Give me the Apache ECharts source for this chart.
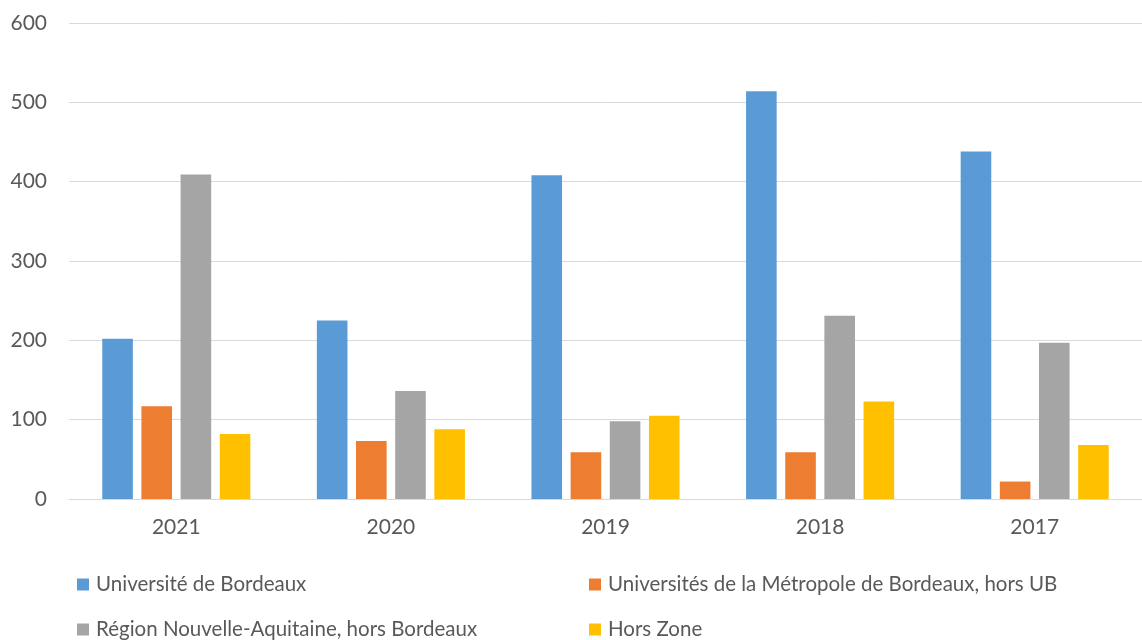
<!DOCTYPE html>
<html>
<head>
<meta charset="utf-8">
<script src="https://cdn.jsdelivr.net/npm/echarts@6/dist/echarts.min.js"></script>
<style>
  html, body { margin: 0; padding: 0; background: #fff; }
  #chart { width: 1142px; height: 640px; }
</style>
</head>
<body>
<div id="chart"></div>
<script>
// années (axe des x)
const years = ['2021', '2020', '2019', '2018', '2017'];
// séries
const seriesNames = [
  'Université de Bordeaux',
  'Universités de la Métropole de Bordeaux, hors UB',
  'Région Nouvelle-Aquitaine, hors Bordeaux',
  'Hors Zone'
];
const ubValues = [202, 225, 408, 514, 438];
const metropoleValues = [117, 73, 59, 59, 22];
const regionValues = [409, 136, 98, 231, 197];
const horsZoneValues = [82, 88, 105, 123, 68];
const colors = ['#5b9bd5', '#ed7d31', '#a5a5a5', '#ffc000'];

const allValues = [ubValues, metropoleValues, regionValues, horsZoneValues];
const font = 'Lato, "Open Sans", sans-serif';
const textColor = '#595959';

const chart = echarts.init(document.getElementById('chart'));

// positions des légendes (2 colonnes x 2 lignes)
const legendPos = [
  { left: 77, top: 574 },
  { left: 589, top: 574 },
  { left: 77, top: 619 },
  { left: 589, top: 619 }
];

const option = {
  animation: false,
  color: colors,
  grid: { left: 69, right: -4, top: 23, bottom: 141 },
  xAxis: {
    type: 'category',
    data: years,
    axisLine: { lineStyle: { color: '#d9d9d9', width: 1 } },
    axisTick: { show: false },
    axisLabel: { color: textColor, fontSize: 21, fontFamily: font, margin: 18 }
  },
  yAxis: {
    type: 'value',
    min: 0,
    max: 600,
    interval: 100,
    axisLine: { show: false },
    axisTick: { show: false },
    axisLabel: { color: textColor, fontSize: 21, fontFamily: font, margin: 22 },
    splitLine: { lineStyle: { color: '#d9d9d9', width: 1 } }
  },
  legend: seriesNames.map((name, i) => ({
    data: [name],
    left: legendPos[i].left,
    top: legendPos[i].top,
    itemWidth: 12,
    itemHeight: 12,
    itemGap: 0,
    icon: 'rect',
    padding: 0,
    textStyle: { color: textColor, fontSize: 20.5, fontFamily: font, padding: [0, 0, 0, 2] }
  })),
  series: seriesNames.map((name, i) => ({
    name: name,
    type: 'bar',
    data: allValues[i],
    barGap: '28%',
    barCategoryGap: '31%',
    itemStyle: { color: colors[i] }
  }))
};

chart.setOption(option);
</script>
</body>
</html>
